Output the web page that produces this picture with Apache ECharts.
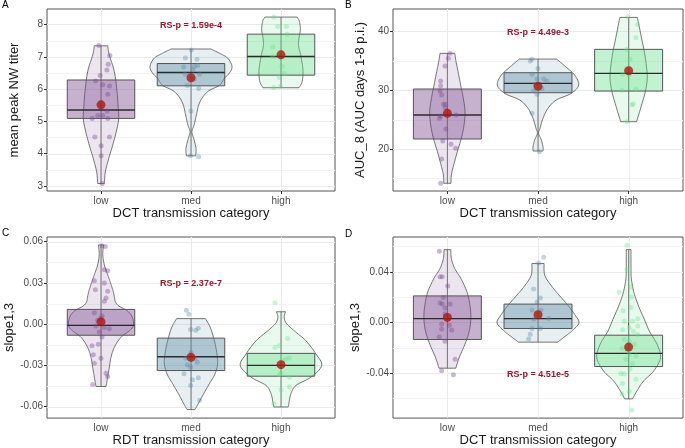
<!DOCTYPE html>
<html><head><meta charset="utf-8">
<script src="https://cdn.jsdelivr.net/npm/echarts@6/dist/echarts.min.js"></script>
<style>html,body{margin:0;padding:0;background:#fff}#c{width:685px;height:448px}</style>
</head><body><div id="c"></div>
<script>
// ---------------- DATA ----------------
const categories = ['low', 'med', 'high'];

// Panel A : mean peak NW titer
const A_yTicks = [3, 4, 5, 6, 7, 8];
const A_yMinor = [3.5, 4.5, 5.5, 6.5, 7.5];
// box stats per group: [min, q1, median, q3, max]
const A_box = [[3.07, 5.09, 5.35, 6.28, 7.34], [3.93, 6.10, 6.51, 6.79, 7.24], [6.04, 6.43, 7.01, 7.70, 8.23]];
const A_mean = [5.51, 6.35, 7.06];
// violin profile: [value, half width (category units)]
const A_vLow = [[7.34,0.074],[7.06,0.092],[6.54,0.148],[5.92,0.178],[5.51,0.189],[5.09,0.197],[4.68,0.17],[4.26,0.13],[3.85,0.086],[3.43,0.048],[3.07,0.037]];
const A_vMed = [[7.24,0.222],[7.11,0.315],[6.96,0.407],[6.70,0.456],[6.49,0.426],[6.33,0.37],[6.23,0.35],[6.10,0.31],[5.95,0.2],[5.75,0.13],[5.5,0.085],[5.2,0.06],[4.89,0.035],[4.68,0.01],[4.47,0.03],[4.16,0.056],[3.93,0.052]];
const A_vHigh = [[8.23,0.18],[8.09,0.205],[7.84,0.215],[7.58,0.2],[7.35,0.195],[7.10,0.215],[6.80,0.235],[6.54,0.245],[6.23,0.235],[6.04,0.2]];
// jittered observations: [x jitter (category units), value]
const A_pLow = [[-0.024,7.35],[0.098,7.04],[0.080,6.77],[0.065,6.59],[-0.009,6.42],[-0.061,6.25],[0.020,6.13],[0.094,6.09],[0.076,5.84],[0.069,5.32],[-0.098,5.09],[-0.035,5.18],[0.020,5.18],[0.076,5.09],[-0.069,4.51],[0.094,4.51],[0.002,4.24],[0.002,3.93],[0.013,3.07]];
const A_pMed = [[0.004,7.21],[-0.063,6.96],[0.067,6.92],[-0.081,6.68],[0.037,6.70],[0.074,6.73],[-0.067,6.46],[0.096,6.46],[0.037,6.31],[-0.041,6.11],[0.085,6.02],[0.0,5.32],[-0.007,3.93],[0.085,3.90],[0.02,6.59]];
const A_pHigh = [[-0.081,8.23],[-0.037,7.94],[0.059,7.94],[0.067,7.70],[-0.093,7.01],[0.011,6.70],[0.03,6.49],[-0.019,6.36],[-0.007,6.08],[-0.081,6.05],[-0.09,7.3]];
const A_note = ['RS-p = 1.59e-4', 7.97];

// Panel B : AUC_8
const B_yTicks = [20, 30, 40];
const B_yMinor = [15, 25, 35];
const B_box = [[14.17, 21.70, 25.78, 30.20, 36.26], [19.66, 29.57, 31.16, 32.97, 35.29], [24.64, 29.85, 32.86, 36.94, 42.37]];
const B_mean = [26.06, 30.65, 33.31];
const B_vLow = [[36.26,0.081],[34.84,0.096],[33.14,0.118],[30.88,0.147],[28.61,0.176],[26.34,0.195],[24.08,0.184],[21.81,0.154],[19.55,0.11],[17.28,0.07],[15.58,0.044],[14.17,0.04]];
const B_vMed = [[35.29,0.206],[33.99,0.305],[32.57,0.404],[30.88,0.449],[29.46,0.368],[28.33,0.202],[26.91,0.11],[25.21,0.055],[23.51,0.022],[22.66,0.007],[21.53,0.037],[20.40,0.055],[19.66,0.055]];
const B_vHigh = [[42.37,0.096],[41.07,0.114],[38.80,0.143],[36.54,0.173],[34.27,0.195],[32.01,0.206],[29.74,0.184],[27.48,0.143],[25.78,0.11],[24.64,0.088]];
const B_pLow = [[0.029,36.26],[0.011,35.41],[-0.026,34.10],[-0.074,31.56],[-0.074,30.76],[-0.081,29.86],[-0.063,29.18],[-0.044,27.59],[-0.018,27.59],[-0.088,25.21],[-0.074,25.6],[0.096,25.78],[-0.018,23.40],[-0.051,21.36],[0.04,20.79],[0.092,20.11],[-0.063,18.3],[-0.074,14.17],[-0.026,27.0]];
const B_pMed = [[-0.066,35.29],[-0.085,34.95],[0.0,33.7],[-0.066,32.69],[-0.011,31.9],[0.063,31.9],[0.099,31.56],[-0.029,30.99],[-0.048,29.86],[-0.011,29.29],[-0.066,26.06],[0.015,19.55],[0.044,30.3]];
const B_pHigh = [[-0.011,42.49],[0.099,41.18],[0.081,38.92],[-0.022,36.94],[0.015,35.24],[-0.066,32.69],[0.007,32.57],[0.081,30.2],[-0.074,29.97],[0.051,27.7],[0.037,27.48],[-0.018,24.64]];
const B_note = ['RS-p = 4.49e-3', 39.83];

// Panel C : slope1,3 by RDT
const C_yTicks = [-0.06, -0.03, 0, 0.03, 0.06];
const C_yMinor = [-0.045, -0.015, 0.015, 0.045];
const C_box = [[-0.0454, -0.0081, -0.0009, 0.0107, 0.0576], [-0.0622, -0.0338, -0.0237, -0.0102, 0.0040], [-0.0603, -0.0379, -0.0300, -0.0213, 0.0090]];
const C_mean = [0.0016, -0.0242, -0.0295];
const C_vLow = [[0.0576,0.028],[0.0504,0.02],[0.0432,0.037],[0.036,0.074],[0.0311,0.1],[0.0251,0.13],[0.0203,0.148],[0.0162,0.16],[0.0131,0.2],[0.0095,0.296],[0.0047,0.35],[-0.0013,0.36],[-0.0049,0.315],[-0.0097,0.22],[-0.017,0.148],[-0.0242,0.111],[-0.0314,0.093],[-0.0386,0.074],[-0.0454,0.056]];
const C_vMed = [[0.0040,0.16],[-0.0025,0.215],[-0.0122,0.26],[-0.0218,0.289],[-0.029,0.296],[-0.0362,0.267],[-0.0434,0.204],[-0.0506,0.141],[-0.0579,0.081],[-0.0622,0.044]];
const C_vHigh = [[0.0090,0.05],[0.0050,0.035],[0.0005,0.06],[-0.0049,0.148],[-0.0122,0.278],[-0.0218,0.389],[-0.0302,0.452],[-0.0386,0.333],[-0.0446,0.167],[-0.0506,0.111],[-0.0567,0.09],[-0.0603,0.081]];
const C_pLow = [[0.011,0.0571],[0.048,0.0564],[0.037,0.0396],[0.074,0.0388],[-0.074,0.0316],[0.037,0.0299],[-0.063,0.0251],[0.074,0.0239],[0.056,0.019],[0.037,0.0167],[-0.074,0.0083],[0.011,0.0059],[0,0.0042],[-0.037,0.0028],[0.093,-0.0033],[-0.019,-0.0057],[0.011,-0.0093],[-0.1,-0.0158],[-0.03,-0.0146],[-0.085,-0.0223],[0,-0.0249],[-0.074,-0.0285],[0.056,-0.0357],[0.074,-0.0381],[-0.093,-0.0439],[-0.056,-0.0013],[0.037,-0.0025]];
const C_pMed = [[-0.052,0.0100],[-0.022,0.0071],[0.081,-0.003],[-0.004,-0.004],[0.052,-0.0045],[0,-0.0206],[-0.059,-0.0247],[0.044,-0.025],[0.07,-0.0278],[-0.004,-0.0314],[-0.078,-0.0362],[0.081,-0.0391],[0.015,-0.0405],[-0.004,-0.0446],[0.096,-0.0555],[-0.041,-0.0295]];
const C_pHigh = [[-0.067,0.0155],[0.074,-0.0105],[-0.067,-0.017],[-0.019,-0.0158],[0.056,-0.0254],[0.093,-0.0247],[0.019,-0.0266],[0,-0.0362],[-0.019,-0.0367],[0.093,-0.0386],[0,-0.0478],[0.093,-0.0458],[-0.081,-0.0579]];
const C_note = ['RS-p = 2.37e-7', 0.0297];

// Panel D : slope1,3 by DCT
const D_yTicks = [-0.04, 0, 0.04];
const D_yMinor = [-0.06, -0.02, 0.02, 0.06];
const D_box = [[-0.0363, -0.0136, 0.0029, 0.0209, 0.0575], [-0.0157, -0.0049, 0.0029, 0.0144, 0.0465], [-0.0606, -0.0350, -0.0246, -0.0102, 0.0575]];
const D_mean = [0.0039, 0.0060, -0.0196];
const D_vLow = [[0.0575,0.037],[0.0505,0.044],[0.0426,0.081],[0.0348,0.148],[0.0243,0.215],[0.0139,0.248],[0.0034,0.259],[-0.0071,0.241],[-0.0175,0.193],[-0.028,0.13],[-0.0363,0.093]];
const D_vMed = [[0.0465,0.067],[0.0374,0.074],[0.0295,0.141],[0.0217,0.23],[0.0139,0.326],[0.0060,0.407],[-0.0005,0.452],[-0.0071,0.37],[-0.0123,0.278],[-0.0157,0.215]];
const D_vHigh = [[0.0575,0.026],[0.0452,0.026],[0.0348,0.03],[0.0243,0.056],[0.0139,0.104],[0.0034,0.167],[-0.0071,0.23],[-0.0175,0.315],[-0.028,0.352],[-0.0384,0.278],[-0.0463,0.167],[-0.0541,0.093],[-0.0606,0.044]];
const D_pLow = [[-0.089,0.0562],[-0.081,0.0361],[-0.056,0.0361],[0.004,0.0288],[-0.044,0.0196],[-0.081,0.0152],[-0.056,0.0144],[0.03,0.0144],[-0.026,0.0113],[-0.026,0.0065],[-0.063,-0.0013],[0.022,-0.0023],[-0.063,-0.0052],[0.048,-0.006],[-0.089,-0.0117],[-0.026,-0.0149],[0.085,-0.0292],[-0.063,-0.0384],[0.067,-0.0415]];
const D_pMed = [[0.063,0.0515],[0.007,0.047],[-0.048,0.0264],[0.026,0.0193],[-0.011,0.016],[-0.066,0.0097],[0.033,0.0097],[0.118,0.003],[-0.048,0.0024],[-0.066,-0.005],[0.026,-0.005],[-0.085,-0.0094],[-0.103,-0.0133]];
const D_pHigh = [[-0.019,0.0609],[-0.019,0.0418],[-0.104,0.0238],[-0.059,0.0092],[0.026,0.0118],[0.1,0.0029],[0.007,-0.0045],[0.052,-0.0071],[-0.067,-0.0058],[0.1,-0.0097],[-0.048,-0.0136],[0.007,-0.0149],[0.063,-0.0175],[-0.074,-0.0206],[0.007,-0.0254],[0.081,-0.0267],[-0.03,-0.0293],[0.044,-0.0327],[-0.085,-0.0405],[-0.048,-0.041],[0.081,-0.045],[-0.067,-0.0484],[-0.074,-0.0567],[0.007,-0.0546],[0.037,-0.0693],[-0.048,0.0008],[0.044,0.0008],[0.1,-0.0029],[0.02,0.028],[0.03,0.02],[-0.02,-0.022],[0.015,-0.037]];
const D_note = ['RS-p = 4.51e-5', -0.0413];

// ---------------- LAYOUT / STYLE ----------------
const FONT = 'Liberation Sans, Arial, Helvetica, sans-serif';
const violinFill = ['rgba(120,70,140,0.14)', 'rgba(90,140,165,0.14)', 'rgba(90,220,130,0.14)'];
const boxFill = ['rgba(120,70,140,0.42)', 'rgba(90,140,165,0.42)', 'rgba(90,220,130,0.36)'];
const ptColor = ['rgba(125,75,145,0.5)', 'rgba(85,135,165,0.45)', 'rgba(95,225,135,0.42)'];

const panels = [
  {letter:'A', lx:2, ly:0, grid:{left:47, top:9, width:288, height:182}, yMin:2.84, yMax:8.48, ticks:A_yTicks, minor:A_yMinor, dec:0,
   xName:'DCT transmission category', yName:'mean peak NW titer', box:A_box, mean:A_mean, v:[A_vLow,A_vMed,A_vHigh], p:[A_pLow,A_pMed,A_pHigh], note:A_note},
  {letter:'B', lx:345, ly:0, grid:{left:393, top:9, width:290, height:182}, yMin:12.86, yMax:43.8, ticks:B_yTicks, minor:B_yMinor, dec:0,
   xName:'DCT transmission category', yName:'AUC_8 (AUC days 1-8 p.i.)', box:B_box, mean:B_mean, v:[B_vLow,B_vMed,B_vHigh], p:[B_pLow,B_pMed,B_pHigh], note:B_note},
  {letter:'C', lx:2, ly:228, grid:{left:47, top:237, width:288, height:183}, yMin:-0.0684, yMax:0.0634, ticks:C_yTicks, minor:C_yMinor, dec:2,
   xName:'RDT transmission category', yName:'slope1,3', box:C_box, mean:C_mean, v:[C_vLow,C_vMed,C_vHigh], p:[C_pLow,C_pMed,C_pHigh], note:C_note},
  {letter:'D', lx:345, ly:229, grid:{left:393, top:237, width:290, height:183}, yMin:-0.0758, yMax:0.0675, ticks:D_yTicks, minor:D_yMinor, dec:2,
   xName:'DCT transmission category', yName:'slope1,3', box:D_box, mean:D_mean, v:[D_vLow,D_vMed,D_vHigh], p:[D_pLow,D_pMed,D_pHigh], note:D_note}
];

function catmull(pts, n) {
  const out = [];
  for (let i = 0; i < pts.length - 1; i++) {
    const p0 = pts[Math.max(i - 1, 0)], p1 = pts[i], p2 = pts[i + 1], p3 = pts[Math.min(i + 2, pts.length - 1)];
    for (let k = 0; k < n; k++) {
      const t = k / n, t2 = t * t, t3 = t2 * t;
      const f = j => 0.5 * (2 * p1[j] + (-p0[j] + p2[j]) * t + (2 * p0[j] - 5 * p1[j] + 4 * p2[j] - p3[j]) * t2 + (-p0[j] + 3 * p1[j] - 3 * p2[j] + p3[j]) * t3);
      out.push([f(0), f(1)]);
    }
  }
  out.push(pts[pts.length - 1]);
  return out;
}

const grids = [], xAxes = [], yAxes = [], series = [], graphics = [];
panels.forEach((P, pi) => {
  grids.push(Object.assign({show:true, borderColor:'#555', borderWidth:1, backgroundColor:'rgba(0,0,0,0)'}, P.grid));
  xAxes.push({gridIndex:pi, type:'value', min:0.4, max:3.6,
    name:P.xName, nameLocation:'middle', nameGap:15, nameTextStyle:{fontSize:13, color:'#1a1a1a', fontFamily:FONT},
    axisLine:{show:false}, splitLine:{show:false},
    axisTick:{show:true, customValues:[1,2,3], length:3, lineStyle:{color:'#333'}},
    axisLabel:{customValues:[1,2,3], formatter:v => categories[Math.round(v) - 1] || '', color:'#4d4d4d', fontSize:10, margin:5, fontFamily:FONT}});
  yAxes.push({gridIndex:pi, type:'value', min:P.yMin, max:P.yMax,
    name:P.yName, nameLocation:'middle', nameGap:26, nameRotate:90, nameTextStyle:{fontSize:13, color:'#1a1a1a', fontFamily:FONT},
    axisLine:{show:false}, splitLine:{show:false},
    axisTick:{show:true, customValues:P.ticks, length:3, lineStyle:{color:'#333'}},
    axisLabel:{customValues:P.ticks, formatter:v => v.toFixed(P.dec), color:'#4d4d4d', fontSize:10, margin:4, fontFamily:FONT}});

  // grid lines
  const gl = [];
  P.minor.forEach(v => gl.push([v, 0]));
  P.ticks.forEach(v => gl.push([v, 1]));
  [1, 2, 3].forEach(c => gl.push([c, 2]));
  series.push({type:'custom', xAxisIndex:pi, yAxisIndex:pi, z:1, silent:true, animation:false,
    data:gl, encode:{x:-1, y:-1},
    renderItem:(params, api) => {
      const cs = params.coordSys;
      const v = api.value(0), kind = api.value(1);
      if (kind === 2) {
        const x = Math.round(api.coord([v, P.yMin])[0]) + 0.5;
        return {type:'line', shape:{x1:x, y1:cs.y, x2:x, y2:cs.y + cs.height}, style:{stroke:'#ebebeb', lineWidth:1}};
      }
      const y = Math.round(api.coord([1, v])[1]) + 0.5;
      return {type:'line', shape:{x1:cs.x, y1:y, x2:cs.x + cs.width, y2:y}, style:{stroke:kind ? '#ebebeb' : '#f3f3f3', lineWidth:1}};
    }});

  // violins
  series.push({type:'custom', xAxisIndex:pi, yAxisIndex:pi, z:2, silent:true, animation:false,
    data:P.box.map((b, g) => [g + 1, b[2]]), encode:{x:0, y:1},
    renderItem:(params, api) => {
      const g = params.dataIndex, cx = g + 1, prof = P.v[g];
      const right = catmull(prof.map(d => api.coord([cx + d[1], d[0]])), 8);
      const left = catmull(prof.map(d => api.coord([cx - d[1], d[0]])), 8).reverse();
      return {type:'polygon', shape:{points:right.concat(left)}, style:{fill:violinFill[g], stroke:'#3c3c3c', lineWidth:0.7}};
    }});

  // boxes
  series.push({type:'custom', xAxisIndex:pi, yAxisIndex:pi, z:3, silent:true, animation:false,
    data:P.box.map((b, g) => [g + 1, b[2]]), encode:{x:0, y:1},
    renderItem:(params, api) => {
      const g = params.dataIndex, cx = g + 1, s = P.box[g], hw = 0.375;
      const wt = api.coord([cx, s[4]]), wb = api.coord([cx, s[0]]);
      const q1 = api.coord([cx - hw, s[1]]), q3 = api.coord([cx + hw, s[3]]);
      const m1 = api.coord([cx - hw, s[2]]), m2 = api.coord([cx + hw, s[2]]);
      return {type:'group', children:[
        {type:'line', shape:{x1:wt[0], y1:wt[1], x2:wb[0], y2:wb[1]}, style:{stroke:'#5a5a5a', lineWidth:0.8}},
        {type:'rect', shape:{x:q1[0], y:q3[1], width:q3[0] - q1[0], height:q1[1] - q3[1]}, style:{fill:boxFill[g], stroke:'#555', lineWidth:1}},
        {type:'line', shape:{x1:m1[0], y1:m1[1], x2:m2[0], y2:m2[1]}, style:{stroke:'#2b2b2b', lineWidth:1.4}}
      ]};
    }});

  // jittered points
  P.p.forEach((pts, g) => {
    series.push({type:'scatter', xAxisIndex:pi, yAxisIndex:pi, z:4, silent:true, animation:false,
      symbolSize:5, itemStyle:{color:ptColor[g]},
      data:pts.map(d => [g + 1 + d[0], d[1]])});
  });

  // means
  series.push({type:'scatter', xAxisIndex:pi, yAxisIndex:pi, z:5, silent:true, animation:false,
    symbolSize:9, itemStyle:{color:'#b0150f'},
    data:P.mean.map((m, g) => [g + 1, m])});

  // RS-p note
  series.push({type:'custom', xAxisIndex:pi, yAxisIndex:pi, z:6, silent:true, animation:false,
    data:[[2, P.note[1]]], encode:{x:0, y:1},
    renderItem:(params, api) => {
      const c = api.coord([api.value(0), api.value(1)]);
      return {type:'text', x:c[0], y:c[1], style:{text:P.note[0], fill:'#a3122b', fontSize:9, fontWeight:'bold', fontFamily:FONT, align:'center', verticalAlign:'middle'}};
    }});

  graphics.push({type:'text', left:P.lx, top:P.ly, style:{text:P.letter, fill:'#000', fontSize:10, fontFamily:FONT}});
});

const chart = echarts.init(document.getElementById('c'), null, {renderer:'canvas'});
chart.setOption({
  animation:false,
  backgroundColor:'#fff',
  grid:grids, xAxis:xAxes, yAxis:yAxes, series:series, graphic:graphics
});
</script>
</body></html>
